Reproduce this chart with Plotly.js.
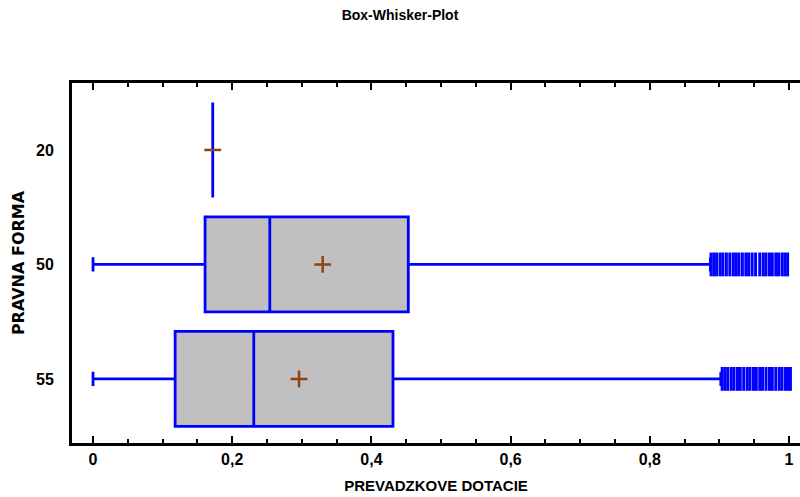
<!DOCTYPE html>
<html><head><meta charset="utf-8">
<script src="https://cdn.plot.ly/plotly-3.0.1.min.js"></script>
<style>body{margin:0;background:#fff}#c{width:800px;height:497px}</style>
</head><body><div id="c"></div>
<script>
const categories = ['20', '50', '55'];
const q1 = [0.172, 0.161, 0.118];
const medians = [0.172, 0.254, 0.231];
const q3 = [0.172, 0.453, 0.431];
const lowerWhisker = [0.172, 0.0, 0.0];
const upperWhisker = [0.172, 0.887, 0.902];
const means = [0.172, 0.330, 0.296];
const outliers50 = [0.888, 0.892, 0.896, 0.901, 0.905, 0.91, 0.915, 0.92, 0.924, 0.928, 0.933, 0.938, 0.942, 0.947, 0.952, 0.958, 0.963, 0.967, 0.972, 0.976, 0.981, 0.985, 0.99, 0.994, 0.998];
const outliers55 = [0.904, 0.908, 0.912, 0.917, 0.921, 0.926, 0.93, 0.935, 0.94, 0.944, 0.949, 0.953, 0.958, 0.962, 0.967, 0.972, 0.976, 0.981, 0.986, 0.99, 0.995, 0.999, 1.002];
const xTicks = [0, 0.2, 0.4, 0.6, 0.8, 1];

const blue = '#0000FF';
const brown = '#8B4513';
const sans = '"Liberation Sans", Arial, sans-serif';

const outlierMarker = {symbol: 'line-ns-open', size: 17, color: blue, line: {color: blue, width: 3}};

const traces = [
  {
    type: 'box', orientation: 'h', y: categories,
    q1: q1, median: medians, q3: q3,
    lowerfence: lowerWhisker, upperfence: upperWhisker,
    width: 0.83, whiskerwidth: 0.15,
    fillcolor: '#C0C0C0', line: {color: blue, width: 2.8},
    boxpoints: false, hoverinfo: 'skip', showlegend: false
  },
  {
    type: 'scatter', mode: 'markers',
    x: outliers50, y: outliers50.map(() => '50'),
    marker: outlierMarker, showlegend: false, hoverinfo: 'skip'
  },
  {
    type: 'scatter', mode: 'markers',
    x: outliers55, y: outliers55.map(() => '55'),
    marker: outlierMarker, showlegend: false, hoverinfo: 'skip'
  },
  {
    type: 'scatter', mode: 'markers', x: means, y: categories,
    marker: {symbol: ['line-ew-open', 'cross-thin-open', 'cross-thin-open'], size: 12, color: brown, line: {color: brown, width: 2.5}},
    showlegend: false, hoverinfo: 'skip'
  }
];

const layout = {
  width: 800, height: 497,
  margin: {l: 72, r: 0, t: 83, b: 54},
  paper_bgcolor: '#fff', plot_bgcolor: '#fff',
  separators: ',.',
  title: {text: 'Box-Whisker-Plot', x: 0.5, xanchor: 'center', y: 0.97, yanchor: 'middle',
          font: {family: sans, size: 14, color: '#000', weight: 'bold'}},
  xaxis: {
    range: [-0.0302, 1.0158], showgrid: false, zeroline: false,
    showline: true, linecolor: '#000', linewidth: 3, mirror: 'ticks',
    tickvals: xTicks, ticks: 'inside', ticklen: 7, tickwidth: 2, tickcolor: '#000',
    minor: {dtick: 0.05, tick0: 0, ticks: 'inside', ticklen: 4, tickwidth: 2, tickcolor: '#000', showgrid: false},
    tickfont: {family: sans, size: 16, color: '#000', weight: 'bold'},
    title: {text: 'PREVADZKOVE DOTACIE', standoff: 14, font: {family: sans, size: 15, color: '#000', weight: 'bold'}}
  },
  yaxis: {
    type: 'category', categoryorder: 'array', categoryarray: categories,
    range: [2.56, -0.585], showgrid: false, zeroline: false,
    showline: true, linecolor: '#000', linewidth: 3,
    ticks: '', ticklabelstandoff: 12,
    tickfont: {family: sans, size: 16, color: '#000', weight: 'bold'},
    title: {text: 'PRAVNA FORMA', standoff: 8, font: {family: '"DejaVu Sans", sans-serif', size: 16, color: '#000', weight: 'bold'}}
  }
};

Plotly.newPlot('c', traces, layout, {staticPlot: true, displayModeBar: false});
</script></body></html>
